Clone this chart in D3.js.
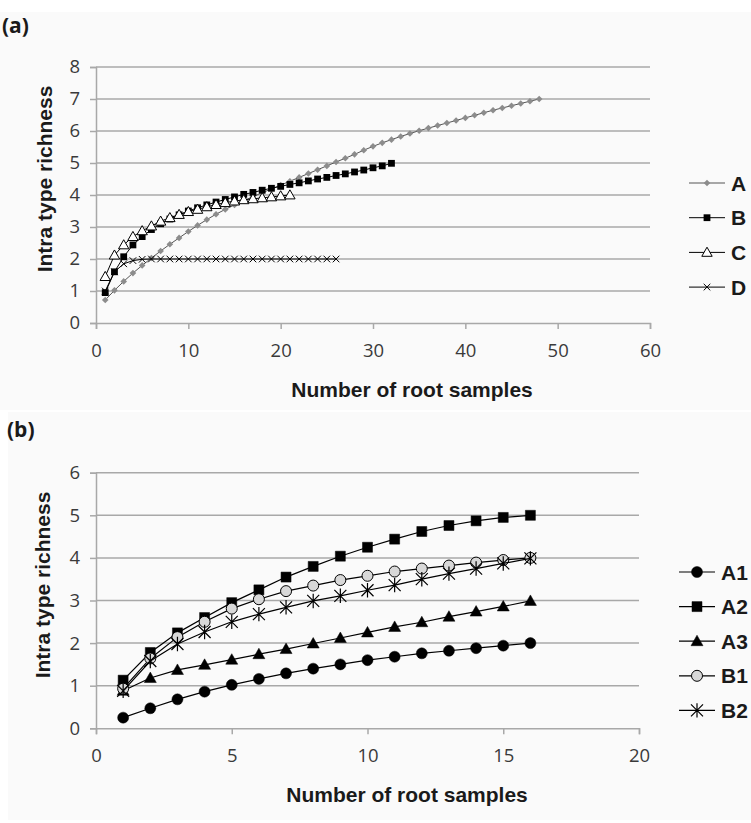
<!DOCTYPE html>
<html>
<head>
<meta charset="utf-8">
<script src="https://cdn.jsdelivr.net/npm/d3@7/dist/d3.min.js"></script>
<style>
  body { margin: 0; background: #fff; }
  text { font-family: "Open Sans", "DejaVu Sans", sans-serif; }
  .ttl { font-family: "Liberation Sans", Arial, sans-serif; font-weight: bold; }
</style>
</head>
<body>
<div id="chart"></div>
<script>
// ---- panel (a): richness vs number of root samples (x = 1,2,3,...)
var namesA = ["A", "B", "C", "D"];
var valA = [0.72,1.02,1.3,1.56,1.8,2.03,2.25,2.46,2.66,2.86,3.05,3.23,3.4,3.55,3.69,3.82,3.95,4.07,4.19,4.31,4.43,4.55,4.67,4.79,4.91,5.03,5.15,5.27,5.4,5.52,5.63,5.73,5.83,5.92,6.01,6.09,6.17,6.25,6.33,6.41,6.49,6.57,6.65,6.72,6.79,6.86,6.93,7.0];
var valB = [0.95,1.6,2.07,2.44,2.7,2.92,3.1,3.25,3.38,3.5,3.6,3.69,3.78,3.86,3.94,4.02,4.08,4.15,4.21,4.27,4.33,4.38,4.44,4.5,4.55,4.61,4.66,4.72,4.78,4.85,4.91,4.99];
var valC = [1.45,2.12,2.44,2.7,2.88,3.03,3.18,3.29,3.39,3.48,3.55,3.63,3.7,3.76,3.81,3.85,3.88,3.91,3.94,3.97,4.0];
var valD = [1.0,1.6,1.85,1.95,1.99,2,2,2,2,2,2,2,2,2,2,2,2,2,2,2,2,2,2,2,2,2];
var ticksAx = [0,10,20,30,40,50,60];
var ticksAy = [0,1,2,3,4,5,6,7,8];

// ---- panel (b)
var namesB = ["A1", "A2", "A3", "B1", "B2"];
var valA1 = [0.25,0.47,0.68,0.86,1.02,1.16,1.29,1.4,1.5,1.6,1.68,1.76,1.82,1.88,1.94,2.0];
var valA2 = [1.13,1.78,2.24,2.6,2.95,3.25,3.55,3.8,4.04,4.25,4.44,4.62,4.76,4.87,4.95,5.0];
var valA3 = [0.88,1.18,1.37,1.49,1.61,1.74,1.86,1.99,2.12,2.25,2.38,2.49,2.62,2.74,2.86,2.99];
var valB1 = [0.93,1.64,2.14,2.5,2.81,3.03,3.22,3.35,3.48,3.58,3.68,3.75,3.82,3.89,3.95,4.0];
var valB2 = [0.88,1.58,1.98,2.26,2.5,2.68,2.84,2.99,3.11,3.24,3.36,3.5,3.63,3.75,3.87,3.99];
var ticksBx = [0,5,10,15,20];
var ticksBy = [0,1,2,3,4,5,6];

var W = 751, H = 823;
var svg = d3.select("#chart").append("svg").attr("width", W).attr("height", H);

// faint chart-area background
svg.append("rect").attr("x", 0).attr("y", 12).attr("width", W).attr("height", 398).attr("fill", "#fafafa");
svg.append("rect").attr("x", 8).attr("y", 412).attr("width", W - 8).attr("height", 408).attr("fill", "#fafafa");

function markerPath(type, h) {
  if (type == "diamond") return "M0," + (-h) + "L" + h + ",0L0," + h + "L" + (-h) + ",0Z";
  if (type == "square") return "M" + (-h) + "," + (-h) + "h" + 2*h + "v" + 2*h + "h" + (-2*h) + "Z";
  if (type == "triangle") return "M0," + (-h) + "L" + h + "," + (h*0.75) + "L" + (-h) + "," + (h*0.75) + "Z";
  if (type == "x") return "M" + (-h) + "," + (-h) + "L" + h + "," + h + "M" + (-h) + "," + h + "L" + h + "," + (-h);
  if (type == "star") return "M" + (-h) + "," + (-h) + "L" + h + "," + h + "M" + (-h) + "," + h + "L" + h + "," + (-h) + "M0," + (-h*1.2) + "L0," + (h*1.2);
  if (type == "circle") return "M" + h + ",0A" + h + "," + h + " 0 1,1 " + (-h) + ",0A" + h + "," + h + " 0 1,1 " + h + ",0Z";
}

function drawPanel(cfg) {
  var x = d3.scaleLinear().domain(cfg.xdom).range([cfg.left, cfg.right]);
  var y = d3.scaleLinear().domain(cfg.ydom).range([cfg.bottom, cfg.top]);
  var g = svg.append("g");

  // gridlines
  g.selectAll(".grid").data(cfg.yticks.slice(1)).enter().append("line")
    .attr("x1", cfg.left).attr("x2", cfg.right)
    .attr("y1", function(d) { return y(d); }).attr("y2", function(d) { return y(d); })
    .attr("stroke", "#a8a8a8").attr("stroke-width", 1.5);

  // axes
  var ax = g.append("g").attr("transform", "translate(0," + cfg.bottom + ")")
    .call(d3.axisBottom(x).tickValues(cfg.xticks).tickFormat(d3.format("d")).tickSize(6).tickPadding(15));
  var ay = g.append("g").attr("transform", "translate(" + cfg.left + ",0)")
    .call(d3.axisLeft(y).tickValues(cfg.yticks).tickFormat(d3.format("d")).tickSize(6).tickPadding(10));
  [ax, ay].forEach(function(a) {
    a.select(".domain").attr("stroke", "#a8a8a8").attr("stroke-width", 1.5);
    a.selectAll(".tick line").attr("stroke", "#a8a8a8").attr("stroke-width", 1.5);
    a.selectAll(".tick text").attr("font-size", 18.5).attr("fill", "#3a3a3a")
      .attr("font-family", "'Open Sans', sans-serif");
  });

  // series
  cfg.series.forEach(function(s) {
    var line = d3.line().x(function(d, i) { return x(i + 1); }).y(function(d) { return y(d); });
    g.append("path").datum(s.values).attr("d", line)
      .attr("fill", "none").attr("stroke", s.line).attr("stroke-width", s.lw);
    g.selectAll(null).data(s.values).enter().append("path")
      .attr("transform", function(d, i) { return "translate(" + x(i + 1) + "," + y(d) + ")"; })
      .attr("d", markerPath(s.marker, s.size))
      .attr("fill", s.fill).attr("stroke", s.stroke).attr("stroke-width", s.sw);
  });

  // titles
  svg.append("text").attr("class", "ttl").attr("x", cfg.xtitle[0]).attr("y", cfg.xtitle[1])
    .attr("text-anchor", "middle").attr("font-size", 21).attr("fill", "#1a1a1a")
    .text("Number of root samples");
  svg.append("text").attr("class", "ttl")
    .attr("transform", "translate(" + cfg.ytitle[0] + "," + cfg.ytitle[1] + ") rotate(-90)")
    .attr("text-anchor", "middle").attr("font-size", 21).attr("fill", "#1a1a1a")
    .text("Intra type richness");
  svg.append("text").attr("x", cfg.tag[0]).attr("y", cfg.tag[1])
    .attr("font-size", 21).attr("font-weight", "bold").attr("fill", "#1a1a1a")
    .text(cfg.tagText);

  // legend
  cfg.series.forEach(function(s, i) {
    var ly = cfg.legend.y0 + i * cfg.legend.dy;
    var lg = svg.append("g");
    lg.append("line").attr("x1", cfg.legend.x0).attr("x2", cfg.legend.x0 + 36)
      .attr("y1", ly).attr("y2", ly).attr("stroke", s.line).attr("stroke-width", s.lw);
    lg.append("path").attr("transform", "translate(" + (cfg.legend.x0 + 18) + "," + ly + ")")
      .attr("d", markerPath(s.marker, s.size))
      .attr("fill", s.fill).attr("stroke", s.stroke).attr("stroke-width", s.sw);
    lg.append("text").attr("class", "ttl").attr("x", cfg.legend.x0 + 42).attr("y", ly + 7.5)
      .attr("font-size", 21).attr("fill", "#1a1a1a").text(s.name);
  });
}

drawPanel({
  xdom: [0, 60], ydom: [0, 8], left: 96, right: 650, top: 67, bottom: 323,
  xticks: ticksAx, yticks: ticksAy,
  xtitle: [412, 397], ytitle: [52, 179], tag: [2, 33], tagText: "(a)",
  legend: { x0: 689, y0: 183, dy: 34.7 },
  series: [
    { name: namesA[0], values: valA, marker: "diamond", size: 3.3, fill: "#8c8c8c", stroke: "none", sw: 0, line: "#555", lw: 1 },
    { name: namesA[1], values: valB, marker: "square", size: 3.4, fill: "#000", stroke: "none", sw: 0, line: "#000", lw: 1 },
    { name: namesA[2], values: valC, marker: "triangle", size: 5.2, fill: "#fff", stroke: "#000", sw: 1, line: "#000", lw: 1 },
    { name: namesA[3], values: valD, marker: "x", size: 3.3, fill: "none", stroke: "#000", sw: 1, line: "#000", lw: 1 }
  ]
});

drawPanel({
  xdom: [0, 20], ydom: [0, 6], left: 96, right: 639, top: 472.7, bottom: 728.3,
  xticks: ticksBx, yticks: ticksBy,
  xtitle: [407, 802], ytitle: [50, 585], tag: [7, 437], tagText: "(b)",
  legend: { x0: 679, y0: 572, dy: 34.6 },
  series: [
    { name: namesB[0], values: valA1, marker: "circle", size: 5.5, fill: "#000", stroke: "#000", sw: 0.5, line: "#000", lw: 1.2 },
    { name: namesB[1], values: valA2, marker: "square", size: 5, fill: "#000", stroke: "#000", sw: 0.5, line: "#000", lw: 1.2 },
    { name: namesB[2], values: valA3, marker: "triangle", size: 6, fill: "#000", stroke: "#000", sw: 0.5, line: "#000", lw: 1.2 },
    { name: namesB[3], values: valB1, marker: "circle", size: 5.5, fill: "#d8d8d8", stroke: "#000", sw: 1, line: "#000", lw: 1.2 },
    { name: namesB[4], values: valB2, marker: "star", size: 6, fill: "none", stroke: "#000", sw: 1.2, line: "#000", lw: 1.2 }
  ]
});
</script>
</body>
</html>
